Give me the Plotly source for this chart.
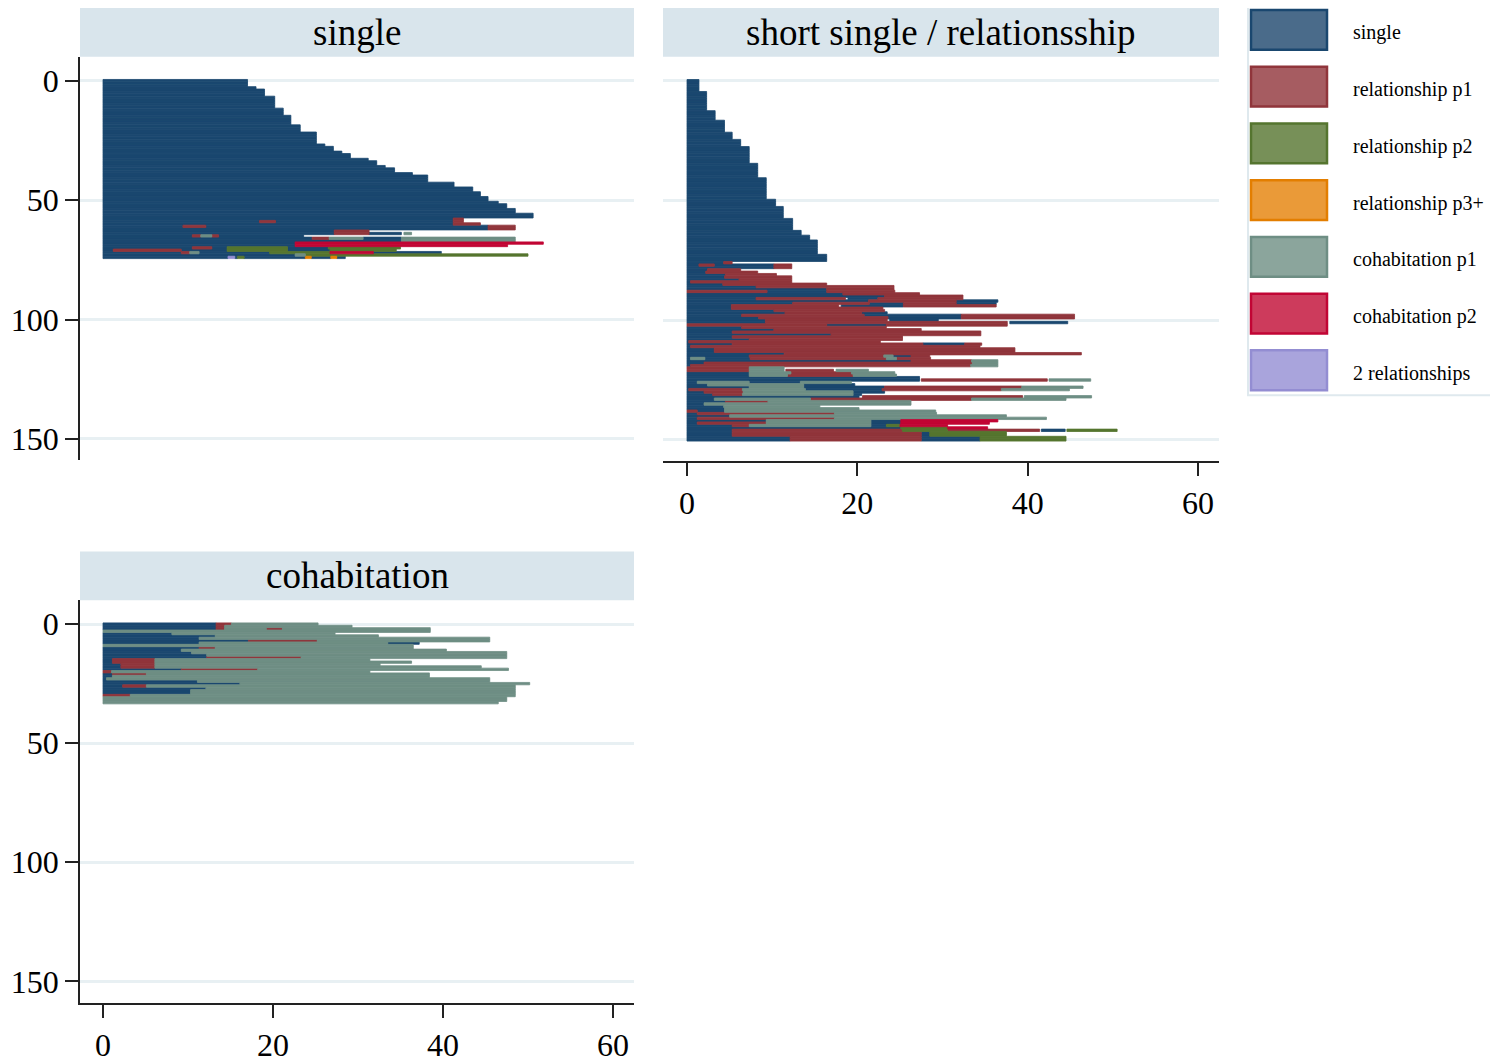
import plotly.graph_objects as go

OFF = 8  # default page margin of the html body
W, H = 1498 - OFF, 1063 - OFF
FONT = "Liberation Serif"

state_labels = ["single", "relationship p1", "relationship p2", "relationship p3+",
                "cohabitation p1", "cohabitation p2", "2 relationships"]
state_codes = ["S", "R", "G", "O", "C", "D", "T"]
state_colors = ["#1a476f", "#90353b", "#55752f", "#e37e00", "#6e8e84", "#c10534", "#938dd2"]
swatch_fill = ["#4a6b8a", "#a65c61", "#779058", "#ea9a38", "#8ba59c", "#cd3b5c", "#a9a4dc"]
panel_titles = ["single", "short single / relationsship", "cohabitation"]
y_ticks = [0, 50, 100, 150]
x_ticks = [0, 20, 40, 60]

# sequences: run-length tokens (state code + duration); "_" = missing
seq_single = (
    ["S17.0"] * 3 + ["S18.0"] + ["S19.0"] * 3 + ["S20.2"] * 5 + ["S21.2"] * 3 +
    ["S22.1"] * 4 + ["S23.2"] * 3 + ["S25.1"] * 5 + ["S26.1"] + ["S27.1"] * 2 +
    ["S28.1"] + ["S29.1"] * 2 + ["S31.2"] + ["S32.2"] * 2 + ["S33.2"] +
    ["S34.3"] * 2 + ["S36.4"] + ["S38.2"] * 3 + ["S41.3"] * 2 + ["S43.5"] * 2 +
    ["S44.4"] * 2 + ["S45.3"] * 2 + ["S46.5"] + ["S47.5"] * 2 + ["S48.5"] * 2 +
    ["S50.6"] * 2 + [
        "S41.2 R1.2",
        "S18.4 R1.9 S20.9 R1.2",
        "S41.2 R3.2",
        "S9.4 R2.7 S33.2 R3.2",
        "S45.3 R3.2",
        "S27.2 R4.1",
        "S27.2 R4.1 S3.8 _0.3 C0.9",
        "S10.5 R1.0 C1.3 R0.8 S10.0",
        "S24.6 R2.0 C4.0 S4.5 C13.4",
        "S35.1 C13.4",
        "S22.6 D29.2",
        "S22.6 D25.0",
        "S10.5 R2.3 S1.8 G7.1 S4.8 G8.5",
        "S1.2 R8.0 S5.4 G7.1 S5.0 G7.8",
        "S9.2 R1.0 C1.1 S8.3 G7.1 D5.1 S8.0",
        "S22.6 C1.2 G26.2",
        "S14.7 T0.8 S0.3 G0.8 S7.2 O0.7 S2.3 O0.7 S1.0",
    ]
)

seq_short = (
    ["S1.4"] * 5 + ["S2.3"] * 8 + ["S3.3"] * 4 + ["S4.4"] * 5 + ["S5.3"] * 3 +
    ["S6.3"] * 3 + ["S7.3"] * 7 + ["S8.3"] * 6 + ["S9.3"] * 9 + ["S10.4"] * 3 +
    ["S11.3"] * 5 + ["S12.4"] * 5 + ["S13.4"] * 2 + ["S14.4"] * 2 + ["S15.3"] * 6 +
    ["S16.4"] * 3 + [
        "S4.3 R1.0",
        "S1.4 R1.8 S7.0 R2.1",
        "S10.2 R2.1",
        "S2.4 R3.9",
        "S2.2 R6.1",
        "S4.5 R6.0",
        "S4.4 R7.9",
        "S6.1 R6.2",
        "S0.4 R11.9",
        "S4.2 R12.2",
        "S8.1 R16.2",
        "S16.4 R7.9",
        "R9.4 S7.0 R8.0",
        "S18.3 R9.0",
        "S23.2 R9.2",
        "S8.1 R10.5 _0.3 S3.5 R10.0",
        "S21.3 R10.3 S4.9",
        "S12.4 R9.0 S4.0 R6.2 S4.7",
        "S5.2 R12.6 _0.3 S7.3 R10.9",
        "S5.2 R17.8",
        "S10.2 R13.0",
        "S11.5 R9.0 S3.0",
        "S6.4 R14.4 S11.4 R13.3",
        "S8.4 R15.2 S8.6 R13.3",
        "S9.2 R14.3 _0.3 S5.7",
        "S9.2 R28.4 _0.3 S6.8",
        "R16.4 S7.0 R14.2",
        "S6.4 R17.0",
        "S10.2 R17.3",
        "S5.3 R29.2",
        "S16.9 R17.6",
        "S5.3 R20.0",
        "S7.3 R18.0",
        "S0.2 R22.5",
        "S5.3 R22.4 S4.9 R2.0",
        "S0.4 R34.0",
        "S3.2 R35.3",
        "S3.2 R35.3",
        "S11.4 R34.9",
        "S7.3 R15.8 C1.1 S2.1 R2.2",
        "S0.4 C1.7 S5.3 R16.0 C1.2 R4.0",
        "S26.3 R7.1 C3.1",
        "S2.0 R31.5 C3.0",
        "S0.4 R32.9 C3.2",
        "R7.3 C4.1",
        "R7.3 C4.1 _0.2 R5.6 _0.3 C3.8",
        "S7.3 C4.9 R7.1 C5.1",
        "S7.3 C4.5 R7.7 C5.1",
        "S27.3",
        "S27.3 _0.2 R14.8 _0.2 C4.9",
        "S1.2 C6.1 S6.0 C6.0",
        "S2.4 C11.3 S6.0",
        "S7.3 C6.4 S9.5 R16.1 C7.2",
        "S0.2 R6.3 C7.4 S9.0 R14.0 C8.0",
        "S2.0 R4.6 C12.9 S3.7",
        "S3.0 R3.5 C13.0 S1.0",
        "S20.2 _0.4 R18.8 _0.2 C7.9",
        "S3.2 C11.3 R18.9 C11.1",
        "S4.5 R5.0 C16.8",
        "S2.0 C24.3",
        "S4.3 C11.3",
        "S4.4 C15.8",
        "R1.2 S3.2 C24.8",
        "S1.2 R16.1 C12.0",
        "S5.0 C32.5",
        "S1.2 R16.1 C24.9",
        "S9.3 C12.3 S3.5 D11.4",
        "S1.2 R8.1 C12.3 S3.5 D10.4",
        "S5.3 R2.0 C14.3 S1.8 G1.6 D5.6",
        "S25.1 G5.5 D4.7",
        "S5.3 R20.0 G5.3 R10.8 _0.2 S2.8 _0.2 G5.9",
        "S5.3 R22.2 S1.0 G9.0",
        "S5.3 R22.2 S1.0 G9.0",
        "S12.1 R15.4 S6.9 G10.1",
        "S12.1 R15.4 S6.9 G10.1",
    ]
)

seq_cohab = [
    "S13.3 R1.8 C10.2",
    "S13.3 R1.0 C15.0",
    "S13.3 R1.0 C4.9 R1.9 C17.4",
    "C38.5",
    "S8.1 C19.2",
    "S13.2 C19.2",
    "S11.3 C34.2",
    "S17.1 R8.1 C20.3",
    "S11.3 C22.2 S3.7",
    "C36.5",
    "S11.3 R1.9 C23.3",
    "S9.2 C31.2",
    "S10.4 C37.1",
    "S12.2 C35.3",
    "S12.2 R11.1 C24.2",
    "S1.1 R5.0 C25.3",
    "S1.1 R5.0 C30.2",
    "S2.1 R4.0 C26.5",
    "S2.1 R4.0 C38.4",
    "S9.2 R9.0 C29.5",
    "R1.0 C30.4",
    "S1.1 R4.0 C33.3",
    "S1.1 C37.3",
    "S0.4 C45.1",
    "S11.1 C34.4",
    "S16.1 C34.1",
    "S2.3 R2.8 C43.4",
    "S12.1 C36.4",
    "S10.3 C38.2",
    "S10.3 C38.2",
    "R3.2 C45.3",
    "C47.5",
    "C47.5",
    "C46.5",
]


def parse(seqs):
    segs = {c: ([], [], []) for c in state_codes}
    for r, s in enumerate(seqs):
        t = 0.0
        for tok in s.split():
            code, ln = tok[0], float(tok[1:])
            if code in segs:
                segs[code][0].append(r)
                segs[code][1].append(t)
                segs[code][2].append(ln)
            t += ln
    return segs


def fx(p):
    return (p - OFF) / W


def fy(p):
    return 1 - (p - OFF) / H


# window-pixel boxes of the plot areas: (left, right, top, bottom)
boxes = [(80, 634, 57, 462), (663, 1219, 57, 463), (80, 634, 603, 1008)]
strips = [(8, 57), (8, 57), (554, 603)]
xranges = [[-2.71, 62.47], [-2.82, 62.46], [-2.71, 62.47]]
yranges = [[158.75, -10.0], [158.75, -10.0], [159.2, -10.03]]
show_x = [False, True, True]
show_y = [True, False, True]

fig = go.Figure()
all_seqs = [seq_single, seq_short, seq_cohab]
for i, seqs in enumerate(all_seqs):
    segs = parse(seqs)
    xa = "x" if i == 0 else f"x{i+1}"
    ya = "y" if i == 0 else f"y{i+1}"
    for code, col in zip(state_codes, state_colors):
        rows, starts, lens = segs[code]
        if not rows:
            continue
        fig.add_trace(go.Bar(
            orientation="h", y=rows, x=lens, base=starts, width=1.0,
            marker=dict(color=col, line=dict(width=0.8, color=col)),
            xaxis=xa, yaxis=ya, showlegend=False, hoverinfo="skip"))

layout = dict(
    width=W, height=H, margin=dict(l=0, r=0, t=0, b=0),
    paper_bgcolor="white", plot_bgcolor="white", barmode="overlay",
    font=dict(family=FONT, color="#000"), showlegend=False,
)
shapes = []
annotations = []
for i in range(3):
    l, r, t, b = boxes[i]
    sfx = "" if i == 0 else str(i + 1)
    layout["xaxis" + sfx] = dict(
        domain=[fx(l), fx(r)], range=xranges[i], anchor="y" + sfx,
        showgrid=False, zeroline=False, fixedrange=True,
        visible=show_x[i], showline=show_x[i], linecolor="#222", linewidth=1.5,
        ticks="outside" if show_x[i] else "", ticklen=13, tickwidth=1.5, tickcolor="#222",
        tickvals=x_ticks, tickfont=dict(family=FONT, size=32, color="#000"),
    )
    layout["yaxis" + sfx] = dict(
        domain=[fy(b), fy(t)], range=yranges[i], anchor="x" + sfx,
        showgrid=True, gridcolor="#e8f0f3", gridwidth=2.5, zeroline=False, fixedrange=True,
        showline=show_y[i], linecolor="#222", linewidth=1.5,
        ticks="outside" if show_y[i] else "", ticklen=13, tickwidth=1.5, tickcolor="#222",
        showticklabels=show_y[i], tickvals=y_ticks,
        tickfont=dict(family=FONT, size=32, color="#000"),
    )
    st, sb = strips[i]
    shapes.append(dict(type="rect", xref="paper", yref="paper",
                       x0=fx(l), x1=fx(r), y0=fy(sb), y1=fy(st),
                       fillcolor="#d9e5ec", line=dict(width=0), layer="below"))
    annotations.append(dict(xref="paper", yref="paper", x=fx((l + r) / 2), y=fy((st + sb) / 2),
                            text=panel_titles[i], showarrow=False, xanchor="center",
                            yanchor="middle", font=dict(family=FONT, size=37, color="#000")))

# legend box
shapes.append(dict(type="rect", xref="paper", yref="paper",
                   x0=fx(1248), x1=fx(1492), y0=fy(397), y1=fy(5),
                   fillcolor="white", line=dict(color="#dfe9ee", width=2)))
for k, (lab, col, fill) in enumerate(zip(state_labels, state_colors, swatch_fill)):
    top = 10 + 57 * k
    shapes.append(dict(type="rect", xref="paper", yref="paper",
                       x0=fx(1251), x1=fx(1327), y0=fy(top + 40), y1=fy(top),
                       fillcolor=fill, line=dict(color=col, width=2.5)))
    annotations.append(dict(xref="paper", yref="paper", x=fx(1351), y=fy(top + 23),
                            text=lab, showarrow=False, xanchor="left", yanchor="middle",
                            font=dict(family=FONT, size=20, color="#000")))

layout["shapes"] = shapes
layout["annotations"] = annotations
fig.update_layout(**layout)
fig.write_html("out.html")
